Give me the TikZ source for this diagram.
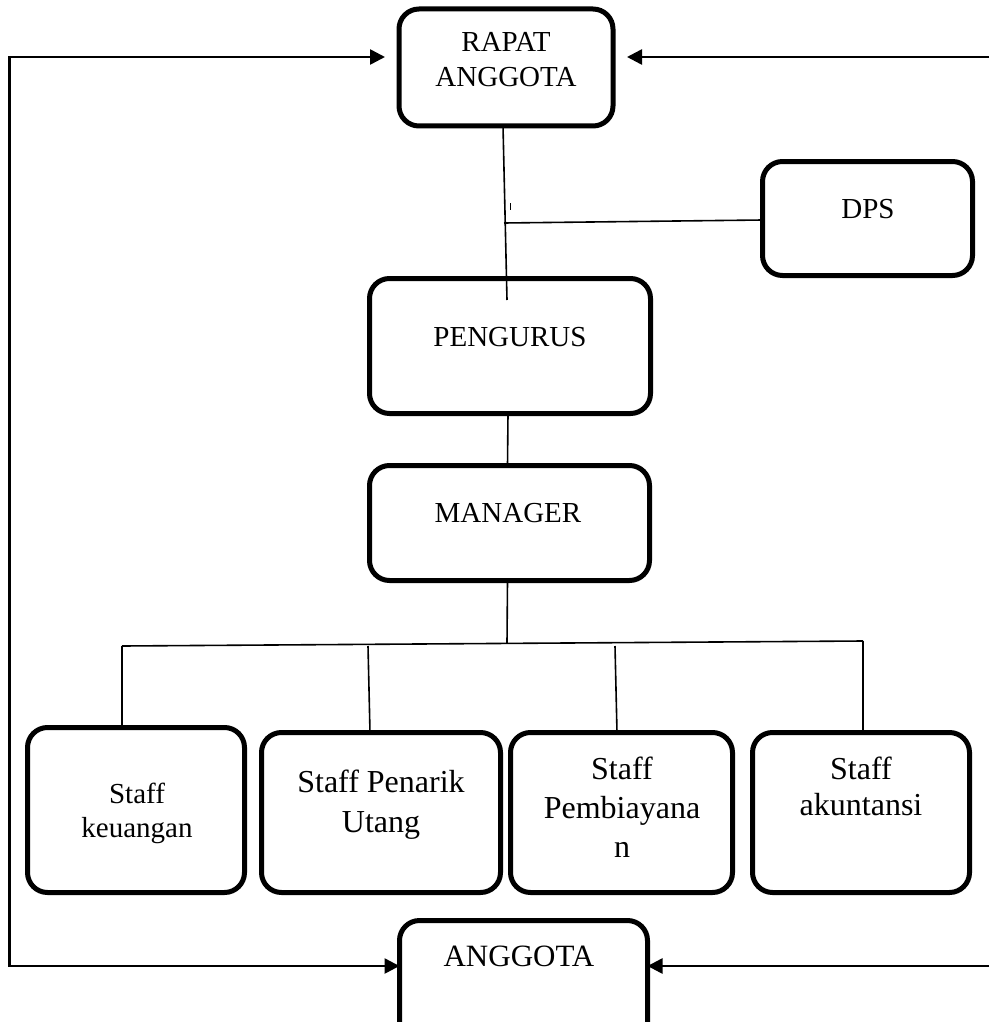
\documentclass[tikz,border=0pt]{standalone}
\usepackage{fontspec}
\setmainfont{Liberation Serif}
\usetikzlibrary{arrows.meta,calc}
\newcommand{\boxtxt}[3]{\parbox[t]{240pt}{\centering\fontsize{#1}{#2}\selectfont #3}}
\begin{document}
\begin{tikzpicture}[x=1pt,y=-1pt,
  box/.style={draw, line width=5pt, rounded corners=20pt, inner sep=0pt, outer sep=0pt},
  lbl/.style={anchor=base, inner sep=0pt, outer sep=0pt},
  conn/.style={line width=1.6pt},
  arr/.style={line width=2.6pt, -{Triangle[length=15pt,width=15pt]}}]
\useasboundingbox (0,0) rectangle (989,1022);
\fill[white] (0,0) rectangle (989,1022);
\clip (0,0) rectangle (989,1022);

% boxes
\node[box, minimum width=214pt, minimum height=117pt] (rapat) at (506,67.5) {};
\node[box, minimum width=210pt, minimum height=114pt] (dps) at (867.5,218.5) {};
\node[box, minimum width=281pt, minimum height=135pt] (pengurus) at (510,346) {};
\node[box, minimum width=280pt, minimum height=115pt] (manager) at (509.5,523) {};
\node[box, minimum width=217pt, minimum height=165pt] (keu) at (136,810) {};
\node[box, minimum width=239pt, minimum height=160pt] (pen) at (381,812.5) {};
\node[box, minimum width=222pt, minimum height=160pt] (pem) at (621.5,812.5) {};
\node[box, minimum width=217pt, minimum height=160pt] (aku) at (861,812.5) {};
\node[box, minimum width=248pt, minimum height=140pt] (ang) at (523.5,990.5) {};

% texts
\node[lbl] (rapat-t) at (506,52) {\boxtxt{29}{35}{RAPAT\\ANGGOTA}};
\node[lbl] (dps-t) at (868,218) {\boxtxt{29}{35}{DPS}};
\node[lbl] (pengurus-t) at (510,346) {\boxtxt{29}{35}{PENGURUS}};
\node[lbl] (manager-t) at (508,522) {\boxtxt{29}{35}{MANAGER}};
\node[lbl] (keu-t) at (137,803) {\boxtxt{29}{34}{Staff\\keuangan}};
\node[lbl] (pen-t) at (381,792) {\boxtxt{32}{40}{Staff Penarik\\Utang}};
\node[lbl] (pem-t) at (622,779) {\boxtxt{32}{39}{Staff\\Pembiayana\\n}};
\node[lbl] (aku-t) at (861,779) {\boxtxt{32}{36}{Staff\\akuntansi}};
\node[lbl] (ang-t) at (519,966) {\boxtxt{31}{35}{ANGGOTA}};

% coordinates
\coordinate (pend) at (507,300);
\coordinate (j1) at (504,223);
\coordinate (tick1) at (510,203);
\coordinate (tick2) at (510,210);
\coordinate (bus) at (507,643);
\coordinate (b1) at (122,646);
\coordinate (b2) at (368,646);
\coordinate (b3) at (615,646);
\coordinate (b4) at (863,641);
\coordinate (tl) at (9.5,57);
\coordinate (bl) at (9.5,966);
\coordinate (tr) at (989,57);
\coordinate (br) at (989,966);

% connectors
\draw[conn] ($(rapat.south)+(-3,0)$) -- (pend);
\draw[conn] (j1) -- ($(dps.west)+(0,1.5)$);
\draw[line width=0.8pt] (tick1) -- (tick2);
\draw[conn] ($(pengurus.south)+(-2,0)$) -- ($(manager.north)+(-2,0)$);
\draw[conn] ($(manager.south)+(-2,0)$) -- (bus);
\draw[conn] (b1) -- (b4);
\draw[conn] (b1) -- (b1 |- keu.north);
\draw[conn] (b2) -- ($(b2 |- pen.north)+(2,0)$);
\draw[conn] (b3) -- ($(b3 |- pem.north)+(2,0)$);
\draw[conn] (b4) -- (b4 |- aku.north);

% arrows
\draw[arr, shorten >=14pt] (bl) -- (tl) -- (tl -| rapat.west);
\draw[arr] (tl) -- (bl) -- (bl -| ang.west);
\draw[arr, shorten >=14pt] (tr) -- (tr -| rapat.east);
\draw[arr] (br) -- (br -| ang.east);
\end{tikzpicture}
\end{document}
